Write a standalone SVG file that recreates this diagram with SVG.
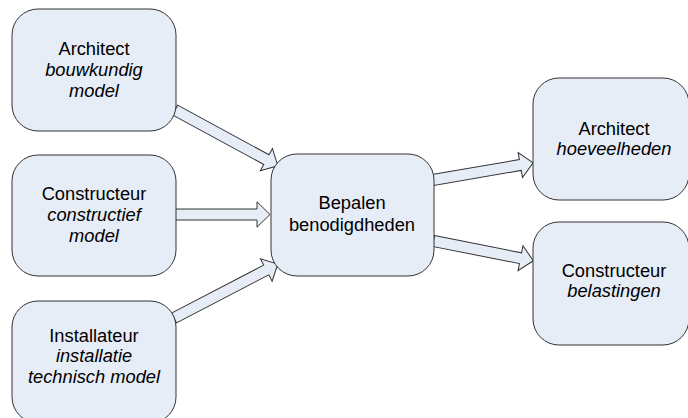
<svg xmlns="http://www.w3.org/2000/svg" width="688" height="418" viewBox="0 0 688 418">
  <style>
    .box { fill: #E7EDF7; stroke: #333333; stroke-width: 1; }
    .arrow { fill: #E7EDF7; stroke: #333333; stroke-width: 1; stroke-linejoin: miter; }
    text { font-family: "Liberation Sans", Arial, sans-serif; font-size: 18.3px; fill: #000000; text-anchor: middle; }
    .it { font-style: italic; }
  </style>

  <!-- connectors (block arrows), drawn beneath the nodes -->
  <g id="connectors">
    <!-- Architect model -> Bepalen -->
    <polygon class="arrow" transform="translate(175,110) rotate(28.5)" points="0,-5.5 104,-5.5 104,-12.7 117,0 104,12.7 104,5.5 0,5.5"/>
    <!-- Constructeur model -> Bepalen -->
    <polygon class="arrow" transform="translate(175,214.5)" points="0,-5.5 82,-5.5 82,-12.7 95,0 82,12.7 82,5.5 0,5.5"/>
    <!-- Installateur model -> Bepalen -->
    <polygon class="arrow" transform="translate(174,318) rotate(-27.5)" points="0,-5.5 104,-5.5 104,-12.7 117,0 104,12.7 104,5.5 0,5.5"/>
    <!-- Bepalen -> Architect hoeveelheden -->
    <polygon class="arrow" transform="translate(433,180) rotate(-9.75)" points="0,-5.5 88.6,-5.5 88.6,-12.7 101.6,0 88.6,12.7 88.6,5.5 0,5.5"/>
    <!-- Bepalen -> Constructeur belastingen -->
    <polygon class="arrow" transform="translate(433.5,241) rotate(11.2)" points="0,-5.5 88.7,-5.5 88.7,-12.7 101.7,0 88.7,12.7 88.7,5.5 0,5.5"/>
  </g>

  <g id="architect-model">
    <rect class="box" x="12" y="9" width="164" height="122" rx="26" ry="26"/>
    <text x="94" y="55">Architect</text>
    <text class="it" x="94" y="76">bouwkundig</text>
    <text class="it" x="94" y="97">model</text>
  </g>

  <g id="constructeur-model">
    <rect class="box" x="12" y="155" width="164" height="121" rx="26" ry="26"/>
    <text x="94" y="200">Constructeur</text>
    <text class="it" x="94" y="221">constructief</text>
    <text class="it" x="94" y="242">model</text>
  </g>

  <g id="installateur-model">
    <rect class="box" x="12" y="301" width="164" height="122" rx="26" ry="26"/>
    <text x="94" y="342">Installateur</text>
    <text class="it" x="94" y="362">installatie</text>
    <text class="it" x="94" y="383">technisch model</text>
  </g>

  <g id="bepalen">
    <rect class="box" x="271" y="154" width="163" height="122" rx="26" ry="26"/>
    <text x="352" y="209">Bepalen</text>
    <text x="352" y="230.5">benodigdheden</text>
  </g>

  <g id="architect-hoeveelheden">
    <rect class="box" x="533" y="78" width="156" height="122" rx="26" ry="26"/>
    <text x="614" y="135">Architect</text>
    <text class="it" x="614" y="155">hoeveelheden</text>
  </g>

  <g id="constructeur-belastingen">
    <rect class="box" x="533" y="222" width="156" height="123" rx="26" ry="26"/>
    <text x="614" y="277">Constructeur</text>
    <text class="it" x="614" y="297">belastingen</text>
  </g>
</svg>
